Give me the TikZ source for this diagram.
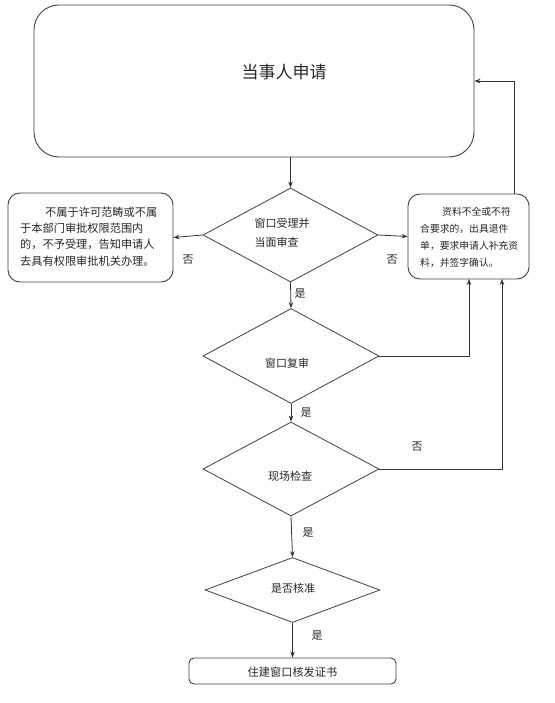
\documentclass[tikz,border=0pt]{standalone}
\usepackage{fontspec}
\setmainfont{Noto Sans CJK SC}
\usetikzlibrary{shapes.geometric,arrows.meta}
\begin{document}
\begin{tikzpicture}[x=1pt,y=-1pt,
 line/.style={draw=black!80, line width=0.8pt},
 arr/.style={line, -{Stealth[length=6pt,width=4.5pt]}},
 dec/.style={diamond, draw=black!75, line width=0.8pt, inner sep=0pt},
 rbox/.style={draw=black!75, line width=0.9pt, inner sep=0pt},
 txt/.style={inner sep=0pt, text=black!85},
 lab/.style={font=\fontsize{11}{13}\selectfont, inner sep=0pt, text=black!85}]
\useasboundingbox (0,0) rectangle (554,703);
% top box
\node[rbox, rounded corners=25pt, minimum width=440pt, minimum height=152pt] (top) at (254,81) {};
\node[txt, font=\fontsize{17}{20}\selectfont] (toptext) at (284,72) {当事人申请};
% diamonds
\node[dec, minimum width=175pt, minimum height=94pt] (d1) at (290.5,235) {};
\node[txt, align=left, font=\fontsize{11}{19}\selectfont] (d1t) at (282,233) {窗口受理并\\当面审查};
\node[dec, minimum width=176pt, minimum height=95pt] (d2) at (291,356) {};
\node[txt, font=\fontsize{11}{13}\selectfont] (d2t) at (287,363) {窗口复审};
\node[dec, minimum width=176pt, minimum height=94pt] (d3) at (291,469) {};
\node[txt, font=\fontsize{11}{13}\selectfont] (d3t) at (290,476) {现场检查};
\node[dec, minimum width=175pt, minimum height=65pt] (d4) at (292.5,590) {};
\node[txt, font=\fontsize{11}{13}\selectfont] (d4t) at (293,588) {是否核准};
% left box
\node[rbox, rounded corners=12pt, minimum width=165pt, minimum height=89pt] (lbox) at (90.5,237.5) {};
\node[txt, align=left, anchor=west, font=\fontsize{11.2}{16.3}\selectfont] (lboxt) at (20,236.5)
 {\hspace*{25pt}不属于许可范畴或不属\\于本部门审批权限范围内\\的，不予受理，告知申请人\\去具有权限审批机关办理。};
% right box
\node[rbox, rounded corners=12pt, minimum width=121pt, minimum height=85pt] (rbox) at (468.5,236.5) {};
\node[txt, align=left, anchor=west, font=\fontsize{9.8}{17}\selectfont] (rboxt) at (420,237.5)
 {\hspace*{22pt}资料不全或不符\\合要求的，出具退件\\单，要求申请人补充资\\料，并签字确认。};
% final box
\node[rbox, rounded corners=5pt, minimum width=207pt, minimum height=26pt] (fin) at (292.5,671) {};
\node[txt, font=\fontsize{11.2}{13}\selectfont] (fint) at (292.5,672) {住建窗口核发证书};
% coordinates
\coordinate (fb) at (514,194);
\coordinate (rb2) at (469,279);
\coordinate (rb3) at (502,279);
% connectors
\draw[arr] (top.south -| d1.north) -- (d1.north);
\draw[arr] (d1.west) -- (lbox.east);
\draw[arr] (d1.east) -- (rbox.west);
\draw[arr] (fb) |- (top.east);
\draw[arr] (d1.south) -- (d2.north);
\draw[arr] (d2.east) -| (rb2);
\draw[arr] (d2.south) -- (d3.north);
\draw[arr] (d3.east) -| (rb3);
\draw[arr] (d3.south) -- (d4.north);
\draw[arr] (d4.south) -- (fin.north);
% labels
\node[lab] (n1) at (188,260) {否};
\node[lab] (n2) at (392,260) {否};
\node[lab] (y1) at (300,294) {是};
\node[lab] (y2) at (306,413) {是};
\node[lab] (n3) at (417,447) {否};
\node[lab] (y3) at (308,533) {是};
\node[lab] (y4) at (317,636) {是};
\end{tikzpicture}
\end{document}
